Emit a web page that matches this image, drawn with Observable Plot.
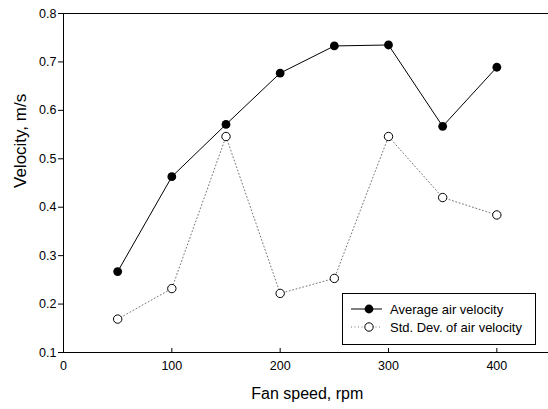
<!DOCTYPE html>
<html><head><meta charset="utf-8">
<script src="https://cdn.jsdelivr.net/npm/d3@7"></script>
<script src="https://cdn.jsdelivr.net/npm/@observablehq/plot@0.6"></script>
<style>
body{margin:0;background:#fff;font-family:"Liberation Sans",Arial,sans-serif;}
#wrap{position:relative;width:548px;height:409px;}
#legend{position:absolute;left:342px;top:293px;width:194px;height:52px;border:1px solid #000;background:#fff;box-sizing:border-box;font-size:13px;}
.row{position:absolute;left:0;height:16px;display:flex;align-items:center;}
.row svg{margin-left:8px;}
.row span{margin-left:8px;}
</style></head><body>
<div id="wrap"></div>
<script>
const fanSpeed = [50, 100, 150, 200, 250, 300, 350, 400];
const avgVelocity = [0.267, 0.463, 0.571, 0.677, 0.733, 0.735, 0.567, 0.689];
const stdVelocity = [0.169, 0.232, 0.546, 0.222, 0.253, 0.546, 0.420, 0.384];
const xTicks = [0, 100, 200, 300, 400];
const yTicks = [0.1, 0.2, 0.3, 0.4, 0.5, 0.6, 0.7, 0.8];
const seriesNames = ["Average air velocity", "Std. Dev. of air velocity"];

const avg = fanSpeed.map((x, i) => ({x, y: avgVelocity[i]}));
const std = fanSpeed.map((x, i) => ({x, y: stdVelocity[i]}));

const chart = Plot.plot({
  width: 548, height: 409,
  marginLeft: 63, marginTop: 13, marginBottom: 57, marginRight: 0,
  style: {fontFamily: '"Liberation Sans", Arial, sans-serif', fontSize: "12px", color: "#000", background: "#fff"},
  x: {domain: [0, 450], range: [63, 550.5]},
  y: {domain: [0.1, 0.8]},
  marks: [
    Plot.axisY({ticks: yTicks, tickFormat: d3.format(".1f"), tickSize: 5, tickPadding: 2, fontSize: 12.5, label: null}),
    Plot.axisX({ticks: xTicks, tickSize: 0, tickPadding: 9, fontSize: 12.5, label: null}),
    Plot.tickX(xTicks, {x: d => d, insetTop: 335, stroke: "#000"}),
    Plot.ruleY([0.8], {stroke: "#000"}),
    Plot.ruleY([0.1], {stroke: "#000"}),
    Plot.ruleX([0], {stroke: "#000"}),
    Plot.line(std, {x: "x", y: "y", stroke: "#777", strokeWidth: 1, strokeDasharray: "1,2.5"}),
    Plot.dot(std, {x: "x", y: "y", r: 4.2, stroke: "#000", fill: "#fff", strokeWidth: 1}),
    Plot.line(avg, {x: "x", y: "y", stroke: "#000", strokeWidth: 1}),
    Plot.dot(avg, {x: "x", y: "y", r: 4.4, fill: "#000", stroke: "none"}),
    Plot.text(["Fan speed, rpm"], {frameAnchor: "bottom", dy: 46, fontSize: 16, x: 225}),
    Plot.text(["Velocity, m/s"], {frameAnchor: "left", dx: -43, dy: 5, rotate: -90, fontSize: 17})
  ]
});
const wrap = document.getElementById("wrap");
wrap.appendChild(chart);

const legend = document.createElement("div");
legend.id = "legend";
legend.innerHTML = `
<div class="row" style="top:7px"><svg width="31" height="12"><line x1="0" y1="6" x2="31" y2="6" stroke="#000"/><circle cx="18" cy="6" r="4.4" fill="#000"/></svg><span>${seriesNames[0]}</span></div>
<div class="row" style="top:25px"><svg width="31" height="12"><line x1="0" y1="6" x2="31" y2="6" stroke="#777" stroke-dasharray="1,2.5"/><circle cx="18" cy="6" r="4.2" fill="#fff" stroke="#000"/></svg><span>${seriesNames[1]}</span></div>`;
wrap.appendChild(legend);
</script>
</body></html>
